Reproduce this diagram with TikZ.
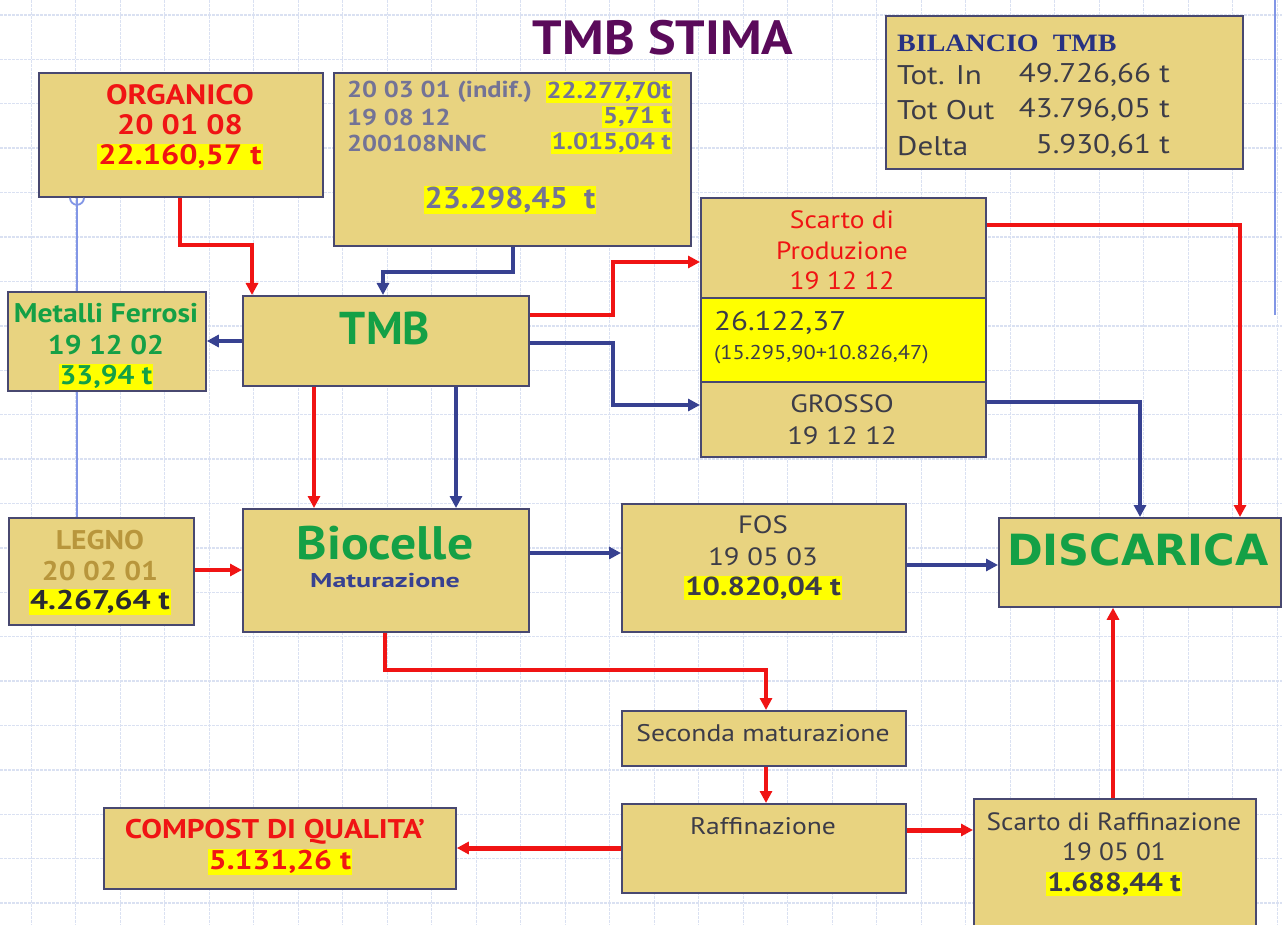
\documentclass[tikz,border=0pt]{standalone}
\usepackage{fontspec}
\setmainfont{PT Sans}
\newfontfamily\vfont{DejaVu Sans}
\newfontfamily\serb{Liberation Serif}
\usetikzlibrary{arrows.meta,calc}
\definecolor{boxfill}{RGB}{232,211,128}
\definecolor{boxline}{RGB}{72,72,112}
\definecolor{hl}{RGB}{255,255,0}
\definecolor{rline}{RGB}{240,20,20}
\definecolor{bline}{RGB}{55,65,145}
\definecolor{thinb}{RGB}{130,150,230}
\definecolor{grn}{RGB}{20,160,70}
\definecolor{gtxt}{RGB}{60,60,72}
\definecolor{ptxt}{RGB}{115,115,150}
\definecolor{ttlc}{RGB}{90,10,90}
\definecolor{gridc}{RGB}{218,225,242}
\definecolor{legnoc}{RGB}{184,150,60}
\definecolor{bilc}{RGB}{40,50,130}
\newcommand{\hlt}[1]{{\setlength{\fboxsep}{1pt}\colorbox{hl}{#1}}}
\newcommand{\fs}[1]{\fontsize{#1}{#1}\selectfont}
\newcommand{\sx}[2][1.15]{\scalebox{#1}[1]{#2}}
\newcommand{\bx}[5]{\node[box,minimum width={(#4-#2)*1pt},minimum height={(#5-#3)*1pt}] (#1) at (#2,#3) {};}
\tikzset{
  box/.style={draw=boxline, line width=1.8pt, fill=boxfill, inner sep=0pt, anchor=north west},
  txt/.style={inner sep=0pt},
  rarr/.style={draw=rline, line width=3.6pt, -{Triangle[length=12pt,width=12pt]}},
  barr/.style={draw=bline, line width=3.4pt, -{Triangle[length=12pt,width=12pt]}},
  thinline/.style={draw=thinb, line width=1.8pt}
}
\begin{document}
\begin{tikzpicture}[x=1pt,y=-1pt]
\useasboundingbox (0,0) rectangle (1282,925);
\clip (0,0) rectangle (1282,925);
\fill[white] (0,0) rectangle (1282,925);
% grid
\foreach \i in {0,...,28} \draw[gridc, line width=1pt, dash pattern=on 3pt off 1pt] ({31+44.5*\i},0) -- ({31+44.5*\i},925);
\foreach \i in {0,...,20} \draw[gridc, line width=1.4pt, dash pattern=on 3pt off 1pt] (0,{15+44.4*\i}) -- (1282,{15+44.4*\i});
\draw[thinb, line width=1.5pt] (1275,0) -- (1275,315);

% title
\node[txt, text=ttlc, font=\bfseries\fs{48}] (ttl) at (663,38) {\sx[1.085]{TMB STIMA}};

% boxes
\bx{bil}{885}{15}{1242}{168}
\bx{org}{38}{72}{322}{196}
\bx{inp}{333}{72}{690}{245}
\bx{tmb}{242}{295}{528}{385}
\bx{met}{7}{291}{205}{390}
\bx{scp}{700}{197}{985}{297}
\node[box, fill=hl, minimum width=285pt, minimum height=84pt] (yel) at (700,297) {};
\bx{gro}{700}{381}{985}{456}
\bx{leg}{8}{517}{193}{624}
\bx{bio}{242}{508}{528}{631}
\bx{fos}{621}{503}{905}{631}
\bx{dis}{998}{517}{1280}{606}
\bx{sec}{621}{710}{905}{765}
\bx{raf}{621}{803}{905}{892}
\bx{com}{103}{807}{455}{888}
\bx{scr}{973}{798}{1255}{935}

% texts: bilancio
\node[txt, anchor=west, text=bilc, font=\serb\bfseries\fs{25}] (bilA) at (897,43) {\sx[1.12]{BILANCIO\ \ TMB}};
\node[txt, anchor=west, text=gtxt, font=\fs{27}] (bilB) at (897,75) {\sx{Tot. In}};
\node[txt, anchor=east, text=gtxt, font=\fs{27}] (bilBv) at (1170,75) {\sx{49.726,66 t}};
\node[txt, anchor=west, text=gtxt, font=\fs{27}] (bilC) at (897,110) {\sx{Tot Out}};
\node[txt, anchor=east, text=gtxt, font=\fs{27}] (bilCv) at (1170,110) {\sx{43.796,05 t}};
\node[txt, anchor=west, text=gtxt, font=\fs{27}] (bilD) at (897,146) {\sx{Delta}};
\node[txt, anchor=east, text=gtxt, font=\fs{27}] (bilDv) at (1170,146) {\sx{5.930,61 t}};

% organico
\node[txt, text=rline, font=\bfseries\fs{28}] (orgA) at (180,95) {\sx{ORGANICO}};
\node[txt, text=rline, font=\bfseries\fs{28}] (orgB) at (180,125) {\sx{20 01 08}};
\node[txt, text=rline, font=\bfseries\fs{28}] (orgC) at (180,157) {\hlt{\sx{22.160,57 t}}};

% input
\node[txt, anchor=west, text=ptxt, font=\bfseries\fs{23}] (inA) at (347,92) {\sx[1.15]{20 03 01 (indif.)}};
\node[txt, anchor=east, text=ptxt, font=\bfseries\fs{23}] (inAv) at (672,92) {\hlt{\sx[1.15]{22.277,70t}}};
\node[txt, anchor=west, text=ptxt, font=\bfseries\fs{23}] (inB) at (347,117) {\sx[1.15]{19 08 12}};
\node[txt, anchor=east, text=ptxt, font=\bfseries\fs{23}] (inBv) at (672,117) {\hlt{\sx[1.15]{5,71 t}}};
\node[txt, anchor=west, text=ptxt, font=\bfseries\fs{23}] (inC) at (347,143) {\sx[1.15]{200108NNC}};
\node[txt, anchor=east, text=ptxt, font=\bfseries\fs{23}] (inCv) at (672,143) {\hlt{\sx[1.15]{1.015,04 t}}};
\node[txt, text=ptxt, font=\bfseries\fs{30}] (inT) at (510,200) {\hlt{\sx[1.07]{23.298,45\ \ t}}};

% TMB
\node[txt, text=grn, font=\bfseries\fs{46}] (tmbT) at (385,328) {TMB};

% metalli
\node[txt, text=grn, font=\bfseries\fs{27}] (metA) at (106,313) {\sx[1.1]{Metalli Ferrosi}};
\node[txt, text=grn, font=\bfseries\fs{27}] (metB) at (106,345) {\sx[1.1]{19 12 02}};
\node[txt, text=grn, font=\bfseries\fs{27}] (metC) at (106,377) {\hlt{\sx[1.1]{33,94 t}}};

% scarto produzione / yellow / grosso
\node[txt, text=rline, font=\fs{25}] (scpA) at (842,220) {\sx[1.1]{Scarto di}};
\node[txt, text=rline, font=\fs{25}] (scpB) at (842,251) {\sx[1.1]{Produzione}};
\node[txt, text=rline, font=\fs{25}] (scpC) at (842,281) {\sx[1.1]{19 12 12}};
\node[txt, anchor=west, text=gtxt, font=\fs{27}] (yelA) at (714,323) {\sx{26.122,37}};
\node[txt, anchor=west, text=gtxt, font=\fs{20}] (yelB) at (714,355) {\sx[1.12]{(15.295,90+10.826,47)}};
\node[txt, text=gtxt, font=\fs{25}] (groA) at (842,404) {\sx{GROSSO}};
\node[txt, text=gtxt, font=\fs{25}] (groB) at (842,436) {\sx{19 12 12}};

% biocelle
\node[txt, text=grn, font=\bfseries\fs{47}] (bioA) at (385,543) {\sx[1.1]{Biocelle}};
\node[txt, text=bline, font=\bfseries\fs{20}] (bioB) at (385,581) {\sx[1.4]{Maturazione}};

% legno
\node[txt, text=legnoc, font=\bfseries\fs{27}] (legA) at (100,540) {\sx[1.1]{LEGNO}};
\node[txt, text=legnoc, font=\bfseries\fs{27}] (legB) at (100,571) {\sx[1.1]{20 02 01}};
\node[txt, text=gtxt!70!black, font=\bfseries\fs{27}] (legC) at (100,602) {\hlt{\sx[1.18]{4.267,64 t}}};

% FOS
\node[txt, text=gtxt, font=\fs{25}] (fosA) at (763,525) {\sx{FOS}};
\node[txt, text=gtxt, font=\fs{25}] (fosB) at (763,557) {\sx{19 05 03}};
\node[txt, text=gtxt, font=\bfseries\fs{26}] (fosC) at (763,588) {\hlt{\sx[1.18]{10.820,04 t}}};

% discarica
\node[txt, text=grn, font=\vfont\bfseries\fs{43}] (disT) at (1138,550) {DISCARICA};

% seconda / raffinazione
\node[txt, text=gtxt, font=\fs{24}] (secT) at (763,733) {\sx{Seconda maturazione}};
\node[txt, text=gtxt, font=\fs{24}] (rafT) at (763,826) {\sx{Raffinazione}};

% compost
\node[txt, text=rline, font=\bfseries\fs{27}] (comA) at (275,832) {\sx{COMPOST DI QUALITA’}};
\node[txt, text=rline, font=\bfseries\fs{27}] (comB) at (280,862) {\hlt{\sx[1.17]{5.131,26 t}}};

% scarto raffinazione
\node[txt, text=gtxt, font=\fs{25}] (scrA) at (1114,822) {\sx[1.09]{Scarto di Raffinazione}};
\node[txt, text=gtxt, font=\fs{25}] (scrB) at (1114,852) {\sx[1.09]{19 05 01}};
\node[txt, text=gtxt, font=\bfseries\fs{26}] (scrC) at (1114,884) {\hlt{\sx[1.14]{1.688,44 t}}};

% bend coordinates
\coordinate (c1) at (180,245);
\coordinate (c2) at (252,245);
\coordinate (c3) at (513,272);
\coordinate (c4) at (383,272);
\coordinate (c5) at (0,341);
\coordinate (c6) at (613,315);
\coordinate (c7) at (613,262);
\coordinate (c8) at (613,343);
\coordinate (c9) at (613,405);
\coordinate (c10) at (1240,225);
\coordinate (c11) at (1140,402);
\coordinate (c12) at (314,0);
\coordinate (c13) at (456,0);
\coordinate (c14) at (0,570);
\coordinate (c15) at (0,553);
\coordinate (c16) at (0,565);
\coordinate (c17) at (385,670);
\coordinate (c18) at (766,670);
\coordinate (c19) at (0,848);
\coordinate (c20) at (0,830);
\coordinate (c21) at (1113,0);
\coordinate (c22) at (77,0);

% thin link line with half circle
\draw[thinline] (org.south -| c22) -- (met.north -| c22);
\draw[thinline] (met.south -| c22) -- (leg.north -| c22);
\draw[thinline] ($(org.south -| c22)+(-7,0)$) arc[start angle=180, end angle=360, radius=7pt];

% connectors
\draw[rarr] (org.south -| c1) -- (c1) -- (c2) -- (tmb.north -| c2);
\draw[barr] (inp.south -| c3) -- (c3) -- (c4) -- (tmb.north -| c4);
\draw[barr] (tmb.west |- c5) -- (met.east |- c5);
\draw[rarr] (tmb.east |- c6) -- (c6) -- (c7) -- (scp.west |- c7);
\draw[barr] (tmb.east |- c8) -- (c8) -- (c9) -- (gro.west |- c9);
\draw[rarr] (scp.east |- c10) -- (c10) -- (dis.north -| c10);
\draw[barr] (gro.east |- c11) -- (c11) -- (dis.north -| c11);
\draw[rarr] (tmb.south -| c12) -- (bio.north -| c12);
\draw[barr] (tmb.south -| c13) -- (bio.north -| c13);
\draw[rarr] (leg.east |- c14) -- (bio.west |- c14);
\draw[barr] (bio.east |- c15) -- (fos.west |- c15);
\draw[barr] (fos.east |- c16) -- (dis.west |- c16);
\draw[rarr] (bio.south -| c17) -- (c17) -- (c18) -- (sec.north -| c18);
\draw[rarr] (sec.south -| c18) -- (raf.north -| c18);
\draw[rarr, line width=5pt] (raf.west |- c19) -- (com.east |- c19);
\draw[rarr, line width=5pt] (raf.east |- c20) -- (scr.west |- c20);
\draw[rarr] (scr.north -| c21) -- (dis.south -| c21);
\end{tikzpicture}
\end{document}
